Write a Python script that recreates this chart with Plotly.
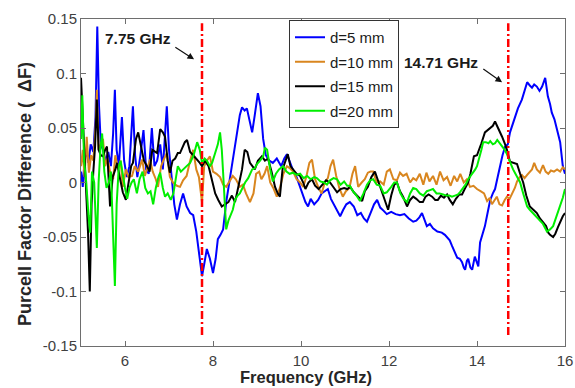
import plotly.graph_objects as go

# ---------------- data ----------------
freq_d5 = [5.00,5.04,5.08,5.12,5.17,5.22,5.28,5.33,5.37,5.41,5.45,5.50,5.56,5.62,5.68,5.73,5.77,5.81,5.86,5.93,
           5.98,6.04,6.10,6.18,6.23,6.28,6.35,6.42,6.48,6.54,6.61,6.67,6.73,6.80,6.86,6.95,7.00,7.06,7.12,7.18,
           7.25,7.32,7.40,7.48,7.55,7.62,7.70,7.75,7.80,7.86,7.93,8.00,8.06,8.11,8.17,8.23,8.30,8.37,8.43,8.50,
           8.55,8.61,8.66,8.72,8.77,8.83,8.89,8.95,9.02,9.08,9.14,9.20,9.28,9.36,9.45,9.55,9.62,9.68,9.75,9.83,
           9.90,9.98,10.05,10.10,10.16,10.22,10.30,10.39,10.47,10.55,10.61,10.68,10.75,10.82,10.89,10.96,11.03,11.11,11.20,11.28,
           11.36,11.43,11.50,11.58,11.66,11.73,11.80,11.88,11.95,12.05,12.15,12.25,12.35,12.45,12.55,12.62,12.69,12.75,12.81,12.86,
           12.93,13.00,13.10,13.20,13.27,13.32,13.38,13.43,13.50,13.55,13.61,13.66,13.70,13.73,13.77,13.80,13.85,13.89,13.95,14.00,
           14.03,14.07,14.12,14.18,14.24,14.30,14.36,14.41,14.47,14.52,14.58,14.64,14.70,14.75,14.80,14.86,14.93,15.02,15.08,15.14,
           15.20,15.25,15.30,15.36,15.42,15.48,15.55,15.61,15.66,15.70,15.76,15.82,15.89,15.95,16.00]
val_d5 = [0.010,-0.004,0.020,0.030,0.018,0.035,0.028,0.060,0.143,0.070,0.035,0.030,0.020,0.028,0.015,0.045,0.085,0.030,0.015,0.060,
          0.020,0.005,0.015,0.070,0.025,0.005,0.025,0.048,0.012,0.008,0.050,0.015,0.020,0.035,0.012,0.070,0.030,0.005,-0.020,-0.034,
          -0.020,-0.010,-0.022,-0.028,-0.030,-0.045,-0.070,-0.086,-0.075,-0.061,-0.070,-0.083,-0.070,-0.052,-0.048,-0.043,-0.018,0.000,0.012,0.030,
          0.046,0.062,0.069,0.066,0.068,0.058,0.046,0.062,0.082,0.070,0.040,0.025,0.020,0.018,0.022,0.015,0.022,0.026,0.018,0.010,
          0.005,-0.005,-0.012,-0.018,-0.022,-0.015,-0.020,-0.016,-0.010,-0.008,-0.006,-0.015,-0.020,-0.026,-0.031,-0.025,-0.020,-0.018,-0.022,-0.030,
          -0.028,-0.033,-0.036,-0.028,-0.020,-0.016,-0.023,-0.026,-0.029,-0.027,-0.029,-0.030,-0.029,-0.033,-0.036,-0.035,-0.032,-0.028,-0.034,-0.040,
          -0.038,-0.042,-0.045,-0.046,-0.048,-0.050,-0.053,-0.058,-0.064,-0.069,-0.070,-0.073,-0.078,-0.080,-0.072,-0.070,-0.078,-0.080,-0.068,-0.074,
          -0.077,-0.055,-0.048,-0.040,-0.028,-0.016,-0.010,-0.006,0.005,0.015,0.025,0.033,0.035,0.046,0.052,0.061,0.068,0.076,0.084,0.092,
          0.089,0.087,0.090,0.088,0.084,0.088,0.096,0.079,0.072,0.064,0.058,0.049,0.037,0.015,0.008]

freq_d10 = [5.00,5.04,5.08,5.13,5.18,5.23,5.28,5.33,5.36,5.40,5.45,5.50,5.55,5.60,5.66,5.73,5.78,5.84,5.90,5.95,
            6.02,6.08,6.16,6.22,6.30,6.39,6.45,6.50,6.57,6.63,6.70,6.75,6.82,6.88,6.95,7.02,7.09,7.18,7.25,7.32,
            7.40,7.48,7.55,7.62,7.68,7.75,7.80,7.86,7.93,8.00,8.08,8.16,8.23,8.30,8.38,8.45,8.52,8.61,8.68,8.75,
            8.84,8.92,8.98,9.05,9.10,9.17,9.23,9.30,9.37,9.45,9.52,9.60,9.68,9.75,9.82,9.90,9.98,10.05,10.12,10.19,
            10.25,10.32,10.40,10.47,10.54,10.61,10.67,10.73,10.80,10.87,10.95,11.02,11.10,11.17,11.23,11.30,11.38,11.45,11.52,11.58,
            11.64,11.72,11.80,11.88,11.95,12.02,12.10,12.18,12.25,12.32,12.40,12.48,12.55,12.62,12.70,12.78,12.85,12.92,13.00,13.08,
            13.16,13.24,13.32,13.40,13.48,13.55,13.62,13.70,13.77,13.84,13.92,14.00,14.08,14.16,14.23,14.29,14.34,14.40,14.45,14.51,
            14.57,14.63,14.68,14.74,14.80,14.86,14.91,14.97,15.02,15.08,15.14,15.20,15.25,15.30,15.36,15.43,15.50,15.56,15.62,15.68,
            15.75,15.82,15.89,15.95,16.00]
val_d10 = [0.015,0.030,0.005,0.042,0.009,0.025,0.020,0.050,0.085,0.030,0.035,0.040,0.015,0.022,0.010,0.003,0.025,0.012,0.020,-0.004,
           0.012,0.005,0.006,0.015,0.010,0.021,0.006,0.012,0.021,0.010,0.003,-0.004,0.015,0.021,0.027,0.005,0.000,-0.003,-0.004,0.002,
           0.006,0.020,0.030,0.012,0.005,-0.018,0.015,0.020,0.024,0.010,0.008,0.005,-0.002,-0.004,0.002,0.006,0.003,-0.004,-0.002,-0.010,
           -0.018,-0.010,0.008,0.010,0.003,0.008,0.015,0.000,-0.005,-0.013,-0.005,0.008,0.015,0.013,0.010,0.003,0.000,-0.004,0.005,0.018,
           0.021,0.003,-0.005,-0.010,0.000,0.004,0.015,0.021,0.006,-0.005,-0.013,-0.008,-0.005,0.008,0.015,-0.004,0.000,0.003,0.009,0.010,
           0.010,0.000,0.001,-0.002,0.010,0.012,0.003,0.002,0.009,0.006,0.008,0.000,0.004,0.002,0.008,-0.002,0.009,0.001,0.006,-0.002,
           0.010,0.002,0.005,-0.003,0.006,0.001,0.008,0.000,0.003,-0.004,-0.003,-0.006,-0.008,-0.010,-0.017,-0.014,-0.020,-0.016,-0.013,-0.020,
           -0.021,-0.016,-0.013,-0.015,-0.010,-0.005,0.001,0.005,0.007,0.004,0.007,0.010,0.012,0.018,0.012,0.009,0.016,0.010,0.008,0.011,
           0.010,0.012,0.010,0.014,0.012]

freq_d15 = [5.00,5.04,5.08,5.13,5.16,5.20,5.24,5.28,5.32,5.36,5.40,5.45,5.50,5.55,5.59,5.66,5.72,5.78,5.82,5.88,
            5.95,6.02,6.08,6.14,6.18,6.25,6.30,6.36,6.43,6.50,6.56,6.62,6.68,6.73,6.80,6.86,6.91,6.97,7.02,7.08,
            7.14,7.20,7.25,7.30,7.36,7.41,7.48,7.55,7.62,7.70,7.75,7.82,7.90,7.98,8.05,8.12,8.20,8.27,8.35,8.43,
            8.50,8.57,8.66,8.72,8.78,8.84,8.89,8.95,9.02,9.11,9.18,9.25,9.33,9.41,9.47,9.52,9.58,9.64,9.70,9.76,
            9.82,9.90,9.98,10.05,10.10,10.17,10.25,10.32,10.40,10.48,10.57,10.66,10.74,10.82,10.90,10.98,11.05,11.12,11.20,11.28,
            11.34,11.39,11.45,11.52,11.60,11.68,11.74,11.80,11.88,11.98,12.05,12.12,12.18,12.25,12.32,12.41,12.48,12.55,12.62,12.70,
            12.77,12.83,12.90,12.98,13.05,13.11,13.18,13.25,13.32,13.38,13.45,13.52,13.60,13.66,13.72,13.80,13.85,13.89,13.93,14.00,
            14.05,14.10,14.18,14.24,14.30,14.36,14.41,14.46,14.52,14.57,14.63,14.68,14.75,14.82,14.91,14.98,15.05,15.12,15.20,15.28,
            15.36,15.43,15.50,15.57,15.62,15.66,15.73,15.78,15.84,15.90,15.95,16.00]
val_d15 = [0.096,0.060,0.027,-0.030,-0.046,-0.100,-0.020,0.010,0.033,0.076,0.030,0.025,0.024,0.030,0.033,-0.022,0.005,0.012,0.018,0.005,
           -0.009,-0.016,0.000,0.015,0.018,0.040,0.046,0.033,0.020,0.015,0.010,0.030,0.028,0.027,0.049,0.046,0.042,0.020,0.009,0.020,
           0.022,0.027,0.027,0.032,0.037,0.039,0.028,0.025,0.022,0.018,0.015,0.020,0.015,0.003,-0.010,-0.016,-0.022,-0.020,-0.018,-0.012,
           -0.018,-0.005,0.012,0.030,0.028,0.018,0.015,0.012,0.020,0.024,0.020,0.022,0.010,-0.004,-0.010,-0.013,0.012,0.020,0.026,0.015,
           0.012,0.008,0.006,0.000,-0.006,0.000,0.003,-0.003,-0.006,-0.002,0.002,0.000,-0.004,-0.009,-0.006,-0.005,-0.006,-0.004,-0.009,-0.012,
           -0.015,-0.017,-0.008,-0.004,0.005,0.010,0.003,-0.004,-0.012,-0.025,-0.012,-0.002,0.000,-0.008,-0.013,-0.022,-0.016,-0.013,-0.015,-0.018,
           -0.018,-0.013,-0.011,-0.013,-0.016,-0.016,-0.012,-0.014,-0.011,-0.016,-0.020,-0.015,-0.011,-0.011,-0.006,0.000,0.008,0.015,0.024,0.025,
           0.030,0.036,0.046,0.048,0.050,0.052,0.056,0.052,0.047,0.042,0.036,0.030,0.019,0.018,0.017,0.008,0.000,-0.012,-0.022,-0.025,
           -0.028,-0.033,-0.037,-0.040,-0.046,-0.048,-0.050,-0.047,-0.041,-0.035,-0.031,-0.028]

freq_d20 = [5.00,5.03,5.07,5.12,5.17,5.21,5.25,5.30,5.33,5.36,5.40,5.44,5.48,5.53,5.58,5.63,5.68,5.73,5.77,5.81,
            5.86,5.90,5.95,6.00,6.05,6.10,6.15,6.20,6.27,6.33,6.40,6.46,6.52,6.58,6.64,6.70,6.76,6.80,6.86,6.91,
            6.97,7.04,7.10,7.20,7.27,7.33,7.40,7.48,7.56,7.64,7.70,7.75,7.81,7.86,7.93,7.98,8.05,8.11,8.16,8.20,
            8.23,8.27,8.30,8.35,8.39,8.45,8.50,8.56,8.61,8.67,8.73,8.80,8.89,8.95,9.00,9.07,9.14,9.18,9.23,9.30,
            9.36,9.43,9.50,9.59,9.67,9.74,9.82,9.90,9.98,10.06,10.14,10.22,10.30,10.36,10.44,10.52,10.59,10.66,10.74,10.82,
            10.90,10.98,11.05,11.11,11.18,11.26,11.34,11.42,11.50,11.57,11.64,11.72,11.80,11.88,11.95,12.05,12.12,12.18,12.26,12.33,
            12.41,12.48,12.55,12.62,12.70,12.78,12.86,12.93,13.00,13.08,13.15,13.23,13.30,13.37,13.43,13.50,13.57,13.61,13.68,13.74,
            13.80,13.86,13.91,13.96,14.00,14.05,14.10,14.14,14.20,14.26,14.30,14.36,14.41,14.46,14.52,14.58,14.63,14.68,14.73,14.78,
            14.82,14.90,14.98,15.05,15.14,15.20,15.27,15.34,15.43,15.50,15.59,15.66,15.73,15.80,15.89,15.95,16.00]
val_d20 = [0.040,0.080,0.020,0.000,-0.030,-0.046,0.010,0.000,-0.030,-0.060,0.000,0.030,0.045,0.010,-0.005,0.000,0.010,-0.050,-0.095,-0.020,
           0.015,0.020,0.005,-0.005,-0.015,-0.005,0.000,0.003,-0.010,0.003,0.010,-0.005,-0.010,-0.008,-0.020,-0.005,0.005,0.009,-0.005,-0.013,
           -0.010,-0.016,-0.010,0.015,0.010,0.012,0.015,0.018,0.025,0.037,0.030,0.018,0.022,0.020,0.015,0.018,0.027,0.035,0.046,0.030,
           0.009,-0.020,-0.043,-0.035,-0.031,-0.025,-0.016,-0.012,-0.010,-0.005,0.000,0.004,0.012,0.013,0.017,0.020,0.024,0.032,0.030,0.012,
           0.001,0.008,0.012,0.015,0.010,0.008,0.009,0.007,0.008,0.004,0.006,0.003,0.005,0.004,0.001,0.000,-0.002,0.002,0.004,0.003,
           -0.002,0.001,-0.003,-0.003,-0.008,-0.012,-0.017,-0.010,-0.002,0.002,0.003,-0.002,-0.003,-0.010,-0.009,-0.004,0.000,0.000,-0.010,-0.015,
           -0.018,-0.010,-0.005,-0.006,-0.010,-0.012,-0.008,-0.007,-0.006,-0.010,-0.010,-0.011,-0.012,-0.012,-0.013,-0.012,-0.011,-0.009,-0.005,-0.002,
           0.003,0.006,0.009,0.012,0.015,0.024,0.030,0.037,0.037,0.036,0.038,0.035,0.036,0.039,0.036,0.033,0.030,0.026,0.020,0.016,
           0.012,0.006,0.000,-0.010,-0.022,-0.025,-0.028,-0.031,-0.034,-0.038,-0.045,-0.043,-0.040,-0.032,-0.022,-0.014,-0.006]

series_names = ["d=5 mm", "d=10 mm", "d=15 mm", "d=20 mm"]
series_colors = ["#0000ff", "#d9861f", "#000000", "#00ee00"]
marker_freqs = [7.75, 14.71]
marker_labels = ["7.75 GHz", "14.71 GHz"]
x_ticks = [6, 8, 10, 12, 14, 16]
y_ticks = [-0.15, -0.1, -0.05, 0, 0.05, 0.1, 0.15]
y_tick_text = ["-0.15", "-0.1", "-0.05", "0", "0.05", "0.1", "0.15"]

FONT = "Liberation Sans, Arial, sans-serif"

fig = go.Figure()
for f, v, name, col in zip([freq_d5, freq_d10, freq_d15, freq_d20],
                           [val_d5, val_d10, val_d15, val_d20],
                           series_names, series_colors):
    fig.add_trace(go.Scatter(x=f, y=v, mode="lines", name=name, legendgroup=name,
                             line=dict(color=col, width=2)))

for mf in marker_freqs:
    fig.add_shape(type="line", xref="x", yref="y", x0=mf, x1=mf, y0=-0.14, y1=0.146,
                  line=dict(color="#ff0000", width=2.5, dash="8px,3px,2px,3px"))

# text labels with arrows
label_pos = [(5.5, 0.132, 7.11, 0.125, 7.57, 0.113),
             (12.30, 0.110, 14.11, 0.105, 14.57, 0.092)]
for lab, (tx, ty, ax0, ay0, hx, hy) in zip(marker_labels, label_pos):
    fig.add_annotation(x=tx, y=ty, xref="x", yref="y", text="<b>%s</b>" % lab,
                       showarrow=False, xanchor="left", yanchor="middle",
                       font=dict(family=FONT, size=15.5, color="#1a1a1a"))
    fig.add_annotation(x=hx, y=hy, ax=ax0, ay=ay0, xref="x", yref="y", axref="x", ayref="y",
                       text="", showarrow=True, arrowhead=2, arrowsize=1.1, arrowwidth=1.2,
                       arrowcolor="#111111", standoff=0)

# axis titles as annotations
fig.add_annotation(x=(306 - 81) / 484, y=(346 - 377) / 327, xref="paper", yref="paper",
                   text="<b>Frequency (GHz)</b>", showarrow=False, xanchor="center", yanchor="middle",
                   borderpad=0, font=dict(family=FONT, size=16.5, color="#262626"))
fig.add_annotation(x=(25 - 81) / 484, y=(346 - 194) / 327, xref="paper", yref="paper",
                   text="<b>Purcell Factor Difference (\u00a0\u00a0ΔF)</b>", showarrow=False, textangle=-90,
                   xanchor="center", yanchor="middle", borderpad=0,
                   font=dict(family=FONT, size=18, color="#262626"))

axis_common = dict(showgrid=False, zeroline=False, showline=True, linecolor="#6e6e6e", linewidth=1,
                   mirror="ticks", ticks="inside", ticklen=5, tickcolor="#6e6e6e", automargin=False,
                   tickfont=dict(family=FONT, size=15, color="#404040"))
fig.update_xaxes(range=[5, 16], tickvals=x_ticks, ticktext=[str(t) for t in x_ticks],
                 ticklabelstandoff=1, **axis_common)
fig.update_yaxes(range=[-0.15, 0.15], tickvals=y_ticks, ticktext=y_tick_text, **axis_common)

fig.update_layout(
    width=575, height=388, autosize=False,
    margin=dict(l=81, r=10, t=19, b=42, pad=0, autoexpand=False),
    plot_bgcolor="white", paper_bgcolor="white",
    font=dict(family=FONT, color="#262626"),
    showlegend=True,
    legend=dict(x=(289 - 81) / 484, y=(346 - 20) / 327, xanchor="left", yanchor="top",
                bgcolor="white", bordercolor="#333333", borderwidth=1,
                font=dict(family=FONT, size=15, color="#1a1a1a"),
                tracegroupgap=2, itemwidth=30),
)

fig.write_html("out.html")
